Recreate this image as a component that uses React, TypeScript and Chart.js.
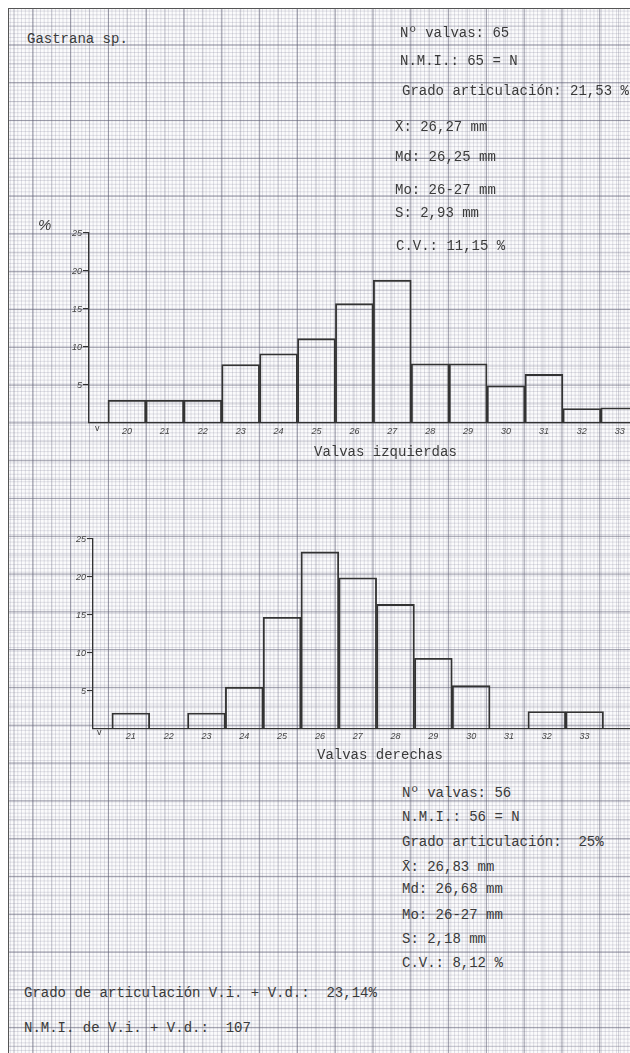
import React, { useEffect, useRef } from "react";
import { Chart, registerables } from "chart.js";

Chart.register(...registerables);

// ---- data ----
const leftSizes = [20, 21, 22, 23, 24, 25, 26, 27, 28, 29, 30, 31, 32, 33];
const leftPct = [3.0, 3.0, 3.0, 7.7, 9.1, 11.1, 15.7, 18.8, 7.8, 7.8, 4.9, 6.4, 1.9, 2.0];
const rightSizes = [21, 22, 23, 24, 25, 26, 27, 28, 29, 30, 31, 32, 33];
const rightPct = [2.1, 0, 2.1, 5.5, 14.7, 23.3, 19.9, 16.4, 9.3, 5.7, 0, 2.3, 2.3];
const yTickValues = [5, 10, 15, 20, 25];

const leftStats = [
  "Nº valvas: 65",
  "N.M.I.: 65 = N",
  "Grado articulación: 21,53 %",
  "X̄: 26,27 mm",
  "Md: 26,25 mm",
  "Mo: 26-27 mm",
  "S: 2,93 mm",
  "C.V.: 11,15 %",
];
const rightStats = [
  "Nº valvas: 56",
  "N.M.I.: 56 = N",
  "Grado articulación:  25%",
  "X̄: 26,83 mm",
  "Md: 26,68 mm",
  "Mo: 26-27 mm",
  "S: 2,18 mm",
  "C.V.: 8,12 %",
];
const totals = [
  "Grado de articulación V.i. + V.d.:  23,14%",
  "N.M.I. de V.i. + V.d.:  107",
];
const title = "Gastrana sp.";
const leftAxisTitle = "Valvas izquierdas";
const rightAxisTitle = "Valvas derechas";

// ---- layout ----
const leftStatPos: [number, number][] = [
  [400, 33], [400, 61], [402, 91], [395, 127], [395, 157], [395, 190], [395, 213], [396, 246],
];
const rightStatPos: [number, number][] = [
  [402, 793], [402, 817], [402, 842], [402, 867], [402, 889], [402, 915], [402, 939], [402, 963],
];
const totalsPos: [number, number][] = [
  [24, 993], [24, 1028],
];

const INK = "#333";
const TICK_FONT = { family: "'Liberation Sans', sans-serif", size: 9, style: "italic" as const };

type HistProps = {
  sizes: number[];
  pct: number[];
  xMin: number;
  xMax: number;
  axisWidth: number;
  padTop: number;
  top: number;
  height: number;
  labelPad: number;
};

function Histogram(p: HistProps) {
  const ref = useRef<HTMLCanvasElement | null>(null);
  useEffect(() => {
    if (!ref.current) return;
    const chart = new Chart(ref.current, {
      type: "bar",
      data: {
        datasets: [
          {
            data: p.sizes.map((s, i) => ({ x: s, y: p.pct[i] > 0 ? p.pct[i] : null })) as any,
            backgroundColor: "rgba(0,0,0,0)",
            borderColor: INK,
            borderWidth: 1.2,
            borderSkipped: "start",
            barPercentage: 1,
            categoryPercentage: 1,
          },
        ],
      },
      options: {
        animation: false,
        responsive: false,
        maintainAspectRatio: false,
        layout: { padding: { top: p.padTop, left: 0, right: 0, bottom: 0 } },
        plugins: { legend: { display: false }, tooltip: { enabled: false } },
        scales: {
          x: {
            type: "linear",
            min: p.xMin,
            max: p.xMax,
            offset: false,
            grid: { display: false, drawTicks: false, offset: false },
            border: { display: true, color: INK, width: 1.3 },
            ticks: {
              font: TICK_FONT,
              color: "#444",
              padding: p.labelPad,
              maxRotation: 0,
              autoSkip: false,
              callback: (v: any) => String(v),
            },
            afterBuildTicks: (s: any) => {
              s.ticks = p.sizes.map((v) => ({ value: v }));
            },
            afterFit: (s: any) => {
              s.height = 24;
            },
          },
          y: {
            type: "linear",
            min: 0,
            max: 25,
            grid: { drawOnChartArea: false, drawTicks: true, tickLength: 6, color: INK, lineWidth: 1.1 },
            border: { display: true, color: INK, width: 1.3 },
            ticks: {
              font: TICK_FONT,
              color: "#444",
              padding: 1,
              callback: (v: any) => String(v),
            },
            afterBuildTicks: (s: any) => {
              s.ticks = yTickValues.map((v) => ({ value: v }));
            },
            afterFit: (s: any) => {
              s.width = p.axisWidth;
            },
          },
        },
      },
    });
    return () => chart.destroy();
  }, []);
  return (
    <canvas
      ref={ref}
      width={630}
      height={p.height}
      style={{ position: "absolute", left: 0, top: p.top, width: 630, height: p.height }}
    />
  );
}

const textStyle: React.CSSProperties = {
  position: "absolute",
  fontFamily: "'Liberation Mono', 'DejaVu Sans Mono', monospace",
  fontSize: 14,
  lineHeight: "16px",
  color: "#3a3a3a",
  whiteSpace: "pre",
};

function T({ x, y, children, style }: { x: number; y: number; children: React.ReactNode; style?: React.CSSProperties }) {
  return <div style={{ ...textStyle, left: x, top: y - 8, ...style }}>{children}</div>;
}

export default function App() {
  const paper: React.CSSProperties = {
    position: "absolute",
    left: 8,
    top: 8,
    right: 0,
    bottom: 0,
    borderLeft: "1.5px solid #555",
    borderTop: "1.5px solid #555",
    backgroundColor: "#fbfbfc",
    backgroundImage: [
      "linear-gradient(to right, rgba(90,90,110,0.42) 1px, transparent 1px)",
      "linear-gradient(to bottom, rgba(90,90,110,0.42) 1px, transparent 1px)",
      "linear-gradient(to right, rgba(115,115,135,0.3) 1px, transparent 1px)",
      "linear-gradient(to bottom, rgba(115,115,135,0.3) 1px, transparent 1px)",
      "linear-gradient(to right, rgba(140,140,160,0.27) 1px, transparent 1px)",
      "linear-gradient(to bottom, rgba(140,140,160,0.27) 1px, transparent 1px)",
    ].join(","),
    backgroundSize:
      "37.8px 37.8px, 37.8px 37.8px, 18.9px 18.9px, 18.9px 18.9px, 3.78px 3.78px, 3.78px 3.78px",
    backgroundPosition:
      "23.4px 35.5px, 23.4px 35.5px, 23.4px 35.5px, 23.4px 35.5px, 23.4px 35.5px, 23.4px 35.5px",
  };
  return (
    <div style={{ position: "absolute", left: 0, top: 0, width: 630, height: 1053, background: "#fff", overflow: "hidden" }}>
      <div style={paper} />
      <Histogram sizes={leftSizes} pct={leftPct} xMin={19} xMax={33.27} axisWidth={89} padTop={11} top={222} height={225} labelPad={3} />
      <Histogram sizes={rightSizes} pct={rightPct} xMin={20} xMax={34.2} axisWidth={93} padTop={10} top={529} height={224} labelPad={2} />
      <T x={27} y={39}>{title}</T>
      {leftStats.map((s, i) => (
        <T key={"l" + i} x={leftStatPos[i][0]} y={leftStatPos[i][1]}>{s}</T>
      ))}
      {rightStats.map((s, i) => (
        <T key={"r" + i} x={rightStatPos[i][0]} y={rightStatPos[i][1]}>{s}</T>
      ))}
      {totals.map((s, i) => (
        <T key={"t" + i} x={totalsPos[i][0]} y={totalsPos[i][1]}>{s}</T>
      ))}
      <T x={314} y={452}>{leftAxisTitle}</T>
      <T x={317} y={755}>{rightAxisTitle}</T>
      <T x={38} y={225} style={{ fontFamily: "'Liberation Sans', sans-serif", fontStyle: "italic", fontSize: 15 }}>%</T>
      <T x={95} y={428} style={{ fontFamily: "'Liberation Sans', sans-serif", fontSize: 9 }}>v</T>
      <T x={97} y={732} style={{ fontFamily: "'Liberation Sans', sans-serif", fontSize: 9 }}>v</T>
    </div>
  );
}
